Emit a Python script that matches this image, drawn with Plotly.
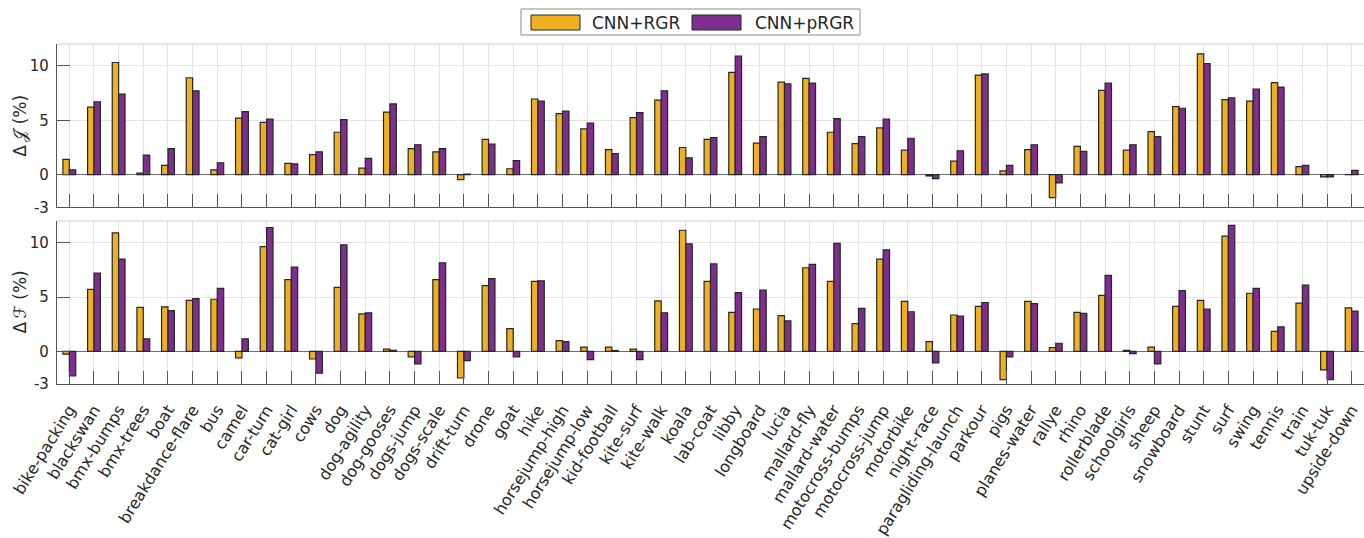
import plotly.graph_objects as go

# Sequences and per-sequence gains of the two methods
categories = [
    "bike-packing", "blackswan", "bmx-bumps", "bmx-trees", "boat", "breakdance-flare",
    "bus", "camel", "car-turn", "cat-girl", "cows", "dog", "dog-agility", "dog-gooses",
    "dogs-jump", "dogs-scale", "drift-turn", "drone", "goat", "hike", "horsejump-high",
    "horsejump-low", "kid-football", "kite-surf", "kite-walk", "koala", "lab-coat",
    "libby", "longboard", "lucia", "mallard-fly", "mallard-water", "motocross-bumps",
    "motocross-jump", "motorbike", "night-race", "paragliding-launch", "parkour", "pigs",
    "planes-water", "rallye", "rhino", "rollerblade", "schoolgirls", "sheep", "snowboard",
    "stunt", "surf", "swing", "tennis", "train", "tuk-tuk", "upside-down",
]

series_names = ["CNN+RGR", "CNN+pRGR"]

j_rgr = [1.4, 6.2, 10.3, 0.15, 0.85, 8.9, 0.45, 5.2, 4.8, 1.05, 1.85, 3.9, 0.6, 5.75,
         2.4, 2.1, -0.45, 3.25, 0.55, 6.95, 5.6, 4.2, 2.3, 5.25, 6.85, 2.5, 3.25, 9.4,
         2.9, 8.5, 8.85, 3.9, 2.85, 4.3, 2.25, -0.1, 1.25, 9.15, 0.35, 2.3, -2.1, 2.6,
         7.75, 2.25, 3.95, 6.25, 11.1, 6.9, 6.75, 8.45, 0.75, -0.2, 0.02]
j_prgr = [0.45, 6.7, 7.4, 1.8, 2.4, 7.7, 1.1, 5.8, 5.1, 1.0, 2.1, 5.05, 1.5, 6.5,
          2.75, 2.4, 0.05, 2.8, 1.3, 6.75, 5.85, 4.75, 1.95, 5.7, 7.7, 1.55, 3.4, 10.9,
          3.5, 8.35, 8.4, 5.15, 3.5, 5.1, 3.35, -0.35, 2.2, 9.25, 0.85, 2.75, -0.75, 2.15,
          8.4, 2.75, 3.5, 6.1, 10.2, 7.05, 7.85, 8.05, 0.85, -0.2, 0.4]
f_rgr = [-0.25, 5.7, 10.9, 4.05, 4.1, 4.7, 4.8, -0.6, 9.65, 6.6, -0.7, 5.9, 3.45, 0.2,
         -0.5, 6.6, -2.45, 6.05, 2.1, 6.45, 1.0, 0.4, 0.4, 0.2, 4.65, 11.15, 6.45, 3.6,
         3.9, 3.3, 7.7, 6.45, 2.55, 8.5, 4.6, 0.9, 3.35, 4.15, -2.6, 4.6, 0.35, 3.6,
         5.15, 0.1, 0.4, 4.15, 4.7, 10.6, 5.35, 1.85, 4.45, -1.7, 4.0]
f_prgr = [-2.25, 7.2, 8.5, 1.15, 3.75, 4.85, 5.8, 1.15, 11.4, 7.75, -2.0, 9.8, 3.55, 0.1,
          -1.15, 8.15, -0.85, 6.7, -0.5, 6.5, 0.9, -0.75, 0.08, -0.75, 3.55, 9.9, 8.05, 5.4,
          5.65, 2.8, 8.0, 9.95, 3.95, 9.35, 3.65, -1.05, 3.25, 4.5, -0.5, 4.4, 0.75, 3.5,
          7.0, -0.2, -1.15, 5.6, 3.9, 11.6, 5.8, 2.25, 6.1, -2.6, 3.7]

y_ticks = [-3, 0, 5, 10]
y_tick_text = ["-3", "0", "5", "10"]
y_titles = ["Δ\u2009𝒥 (%)", "Δ\u2009ℱ (%)"]

COLORS = ["#EDB120", "#7E2F8E"]
EDGE = "#262626"
AXIS = "#555555"
GRID = "#e3e3e3"
TEXT = "#262626"
FONT = "DejaVu Sans"

W, H = 1364, 538
M_L, M_R, M_T, M_B = 57, 0, 44, 154
PW, PH = W - M_L - M_R, H - M_T - M_B
TOP_DOMAIN = [0.5194, 1.0]
BOTTOM_DOMAIN = [0.0, 0.4794]


def paper_x(px):
    return (px - M_L) / PW


def paper_y(py):
    return (H - M_B - py) / PH


fig = go.Figure()

panels = [("x2", "y2", j_rgr, j_prgr), ("x", "y", f_rgr, f_prgr)]
for xa, ya, a_vals, b_vals in panels:
    for name, vals, col in zip(series_names, [a_vals, b_vals], COLORS):
        fig.add_trace(go.Bar(
            x=categories, y=vals, name=name, xaxis=xa, yaxis=ya,
            marker=dict(color=col, line=dict(color=EDGE, width=1.2)),
            showlegend=False, hoverinfo="x+y+name",
        ))

common_x = dict(
    type="category", categoryorder="array", categoryarray=categories,
    range=[-0.5, len(categories) - 0.5],
    ticks="inside", ticklen=13, tickwidth=1, tickcolor=AXIS,
    showgrid=True, gridcolor=GRID, gridwidth=1,
    showline=True, linecolor=AXIS, linewidth=1.2,
    zeroline=False,
)
common_y = dict(
    range=[-3, 12], tickvals=y_ticks, ticktext=y_tick_text,
    ticks="inside", ticklen=13, tickwidth=1, tickcolor=AXIS,
    showgrid=True, gridcolor=GRID, gridwidth=1,
    showline=True, linecolor=AXIS, linewidth=1.2,
    zeroline=True, zerolinecolor="#6e6e6e", zerolinewidth=1.2,
    tickfont=dict(family=FONT, size=15, color=TEXT),
    ticklabelstandoff=4,
)

fig.update_layout(
    width=W, height=H,
    margin=dict(l=M_L, r=M_R, t=M_T, b=M_B, autoexpand=False),
    paper_bgcolor="white", plot_bgcolor="white",
    font=dict(family=FONT, color=TEXT),
    barmode="group", bargap=0.48, bargroupgap=0.0,
    xaxis=dict(common_x, anchor="y", domain=[0, 1], tickangle=-58,
               ticklabelstandoff=9,
               tickfont=dict(family=FONT, size=16, color=TEXT)),
    xaxis2=dict(common_x, anchor="y2", domain=[0, 1], showticklabels=False),
    yaxis=dict(common_y, anchor="x", domain=BOTTOM_DOMAIN),
    yaxis2=dict(common_y, anchor="x2", domain=TOP_DOMAIN),
)

# rotated y-axis titles, centred on each panel
for title, dom in zip(y_titles, [TOP_DOMAIN, BOTTOM_DOMAIN]):
    fig.add_annotation(text=title, xref="paper", yref="paper",
                       x=paper_x(20), y=(dom[0] + dom[1]) / 2,
                       xanchor="center", yanchor="middle", textangle=-90,
                       showarrow=False, font=dict(family=FONT, size=17, color=TEXT))

# light frame line along the top edge of each panel
for ya in ["y", "y2"]:
    fig.add_shape(type="line", xref="paper", yref=f"{ya} domain",
                  x0=0, x1=1, y0=1, y1=1, line=dict(color="#d0d0d0", width=1))

# boxed legend with wide swatches above the panels
fig.add_shape(type="rect", xref="paper", yref="paper",
              x0=paper_x(521), x1=paper_x(860), y0=paper_y(35), y1=paper_y(9),
              line=dict(color="#8c8c8c", width=1), fillcolor="white")
swatch_x = [531, 692]
text_x = [590, 753]
for name, col, sx, tx in zip(series_names, COLORS, swatch_x, text_x):
    fig.add_shape(type="rect", xref="paper", yref="paper",
                  x0=paper_x(sx), x1=paper_x(sx + 49), y0=paper_y(30), y1=paper_y(15),
                  line=dict(color=EDGE, width=1), fillcolor=col)
    fig.add_annotation(text=name, xref="paper", yref="paper",
                       x=paper_x(tx), y=paper_y(22.5), xanchor="left", yanchor="middle",
                       showarrow=False, font=dict(family=FONT, size=17, color=TEXT))

fig.write_html("out.html")
